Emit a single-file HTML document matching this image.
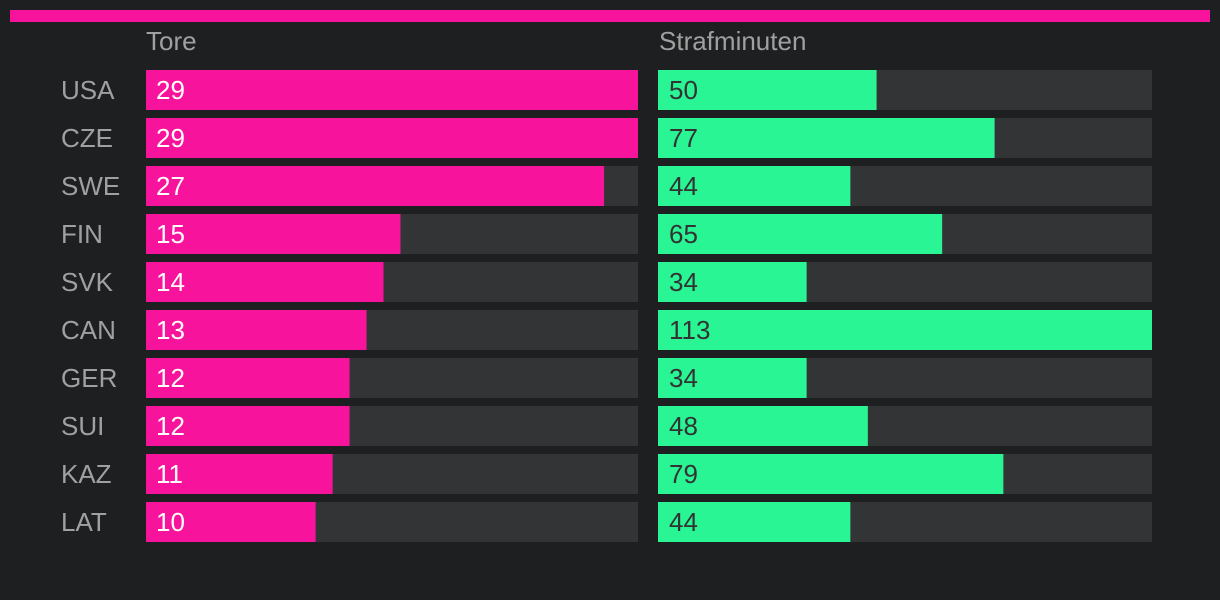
<!DOCTYPE html>
<html><head><meta charset="utf-8"><style>
html,body{margin:0;width:1220px;height:600px;background:#1e1f21;overflow:hidden;font-family:"Liberation Sans",sans-serif}
svg{display:block}
</style></head><body>
<svg id="c" width="1220" height="600">
<rect x="10" y="10" width="1200" height="12" fill="#f7139b"/>
<text x="146" y="50" fill="#a0a0a0" font-size="26">Tore</text>
<text x="659" y="50" fill="#a0a0a0" font-size="26">Strafminuten</text>
</svg>
<script>
const teams=["USA","CZE","SWE","FIN","SVK","CAN","GER","SUI","KAZ","LAT"];
const goals=[29,29,27,15,14,13,12,12,11,10];
const pim=[50,77,44,65,34,113,34,48,79,44];
const svg=document.getElementById('c');const NS='http://www.w3.org/2000/svg';
function mk(t,a){const e=document.createElementNS(NS,t);for(const k in a)e.setAttribute(k,a[k]);svg.appendChild(e);return e;}
const gMax=Math.max(...goals),pMax=Math.max(...pim);
const xG=v=>v/gMax*492, xP=v=>v/pMax*494, yR=i=>70+i*48;
teams.forEach((t,i)=>{
 const y=yR(i);
 let l=mk('text',{x:61,y:y+29,fill:'#a0a0a0','font-size':26});l.textContent=t;
 
 
 let tr=mk('rect',{x:146,y:y,width:492,height:40,fill:'#333436'});
 
 
 let b=mk('rect',{x:146,y:y,width:xG(goals[i]),height:40,fill:'#f7139b'});
 
 
 let v=mk('text',{x:156,y:y+29,fill:'#fff','font-size':26});v.textContent=goals[i];
 
 
 let tr2=mk('rect',{x:658,y:y,width:494,height:40,fill:'#333436'});
 
 
 let b2=mk('rect',{x:658,y:y,width:xP(pim[i]),height:40,fill:'#29f594'});
 
 
 let v2=mk('text',{x:669,y:y+29,fill:'#333','font-size':26});v2.textContent=pim[i];
 
 
});
</script>
</body></html>
